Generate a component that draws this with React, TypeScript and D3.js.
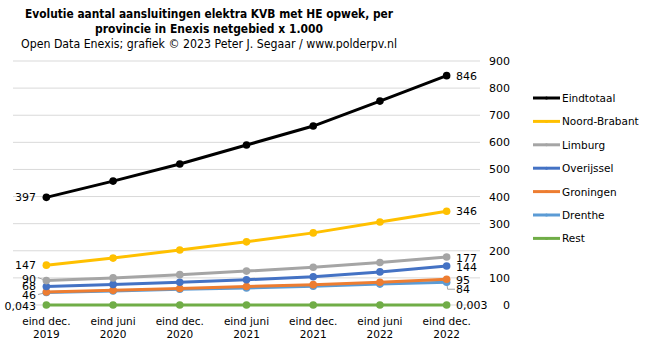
import React from 'react'
import * as d3 from 'd3'

const periods = ['eind dec.|2019', 'eind juni|2020', 'eind dec.|2020', 'eind juni|2021', 'eind dec.|2021', 'eind juni|2022', 'eind dec.|2022']
const seriesNames = ['Eindtotaal', 'Noord-Brabant', 'Limburg', 'Overijssel', 'Groningen', 'Drenthe', 'Rest']
const seriesColors = ['#000000', '#FFC000', '#A5A5A5', '#4472C4', '#ED7D31', '#5B9BD5', '#70AD47']
const eindtotaal = [397, 457, 520, 590, 660, 752, 846]
const noordBrabant = [147, 173, 203, 233, 266, 306, 346]
const limburg = [90, 100, 112, 125, 139, 157, 177]
const overijssel = [68, 76, 84, 93, 104, 122, 144]
const groningen = [48, 54, 61, 68, 75, 84, 95]
const drenthe = [46, 52, 58, 63, 69, 77, 84]
const rest = [0.043, 0.03, 0.02, 0.015, 0.01, 0.005, 0.003]
const yTicks = [0, 100, 200, 300, 400, 500, 600, 700, 800, 900]
// first / last label text per series ('' = none)
const firstLabels = ['397', '147', '90', '68', '', '46', '0,043']
const lastLabels = ['846', '346', '177', '144', '95', '84', '0,003']

const allSeries = [eindtotaal, noordBrabant, limburg, overijssel, groningen, drenthe, rest]

export default function App() {
  const width = 646
  const height = 351
  const font = 'DejaVu Sans, Verdana, sans-serif'

  const x = d3.scaleBand<string>().domain(periods).range([13, 480])
  const y = d3.scaleLinear().domain([0, 900]).range([305, 61])
  const cx = (p: string) => (x(p) ?? 0) + x.bandwidth() / 2

  const line = d3
    .line<number>()
    .x((_, i) => cx(periods[i]))
    .y((d) => y(d))

  // label positions nudged where labels would overlap
  const firstLabelY = [y(397), y(147), y(90) - 2, y(68) - 1, 0, y(46) + 2, y(0) + 1]
  const lastLabelY = [y(846), y(346), y(177) + 1, y(144) + 1, y(95) + 1, y(84) + 7, y(0)]

  const order = [6, 5, 4, 3, 2, 1, 0]

  return (
    <svg width={width} height={height} style={{ position: 'absolute', left: 0, top: 0, background: '#fff' }}>
      <text x={209} y={18} textAnchor="middle" fontFamily={font} fontSize={12.5} fontWeight="bold" textLength={368} lengthAdjust="spacingAndGlyphs">
        Evolutie aantal aansluitingen  elektra KVB met HE opwek, per
      </text>
      <text x={209} y={33} textAnchor="middle" fontFamily={font} fontSize={12.5} fontWeight="bold" textLength={228} lengthAdjust="spacingAndGlyphs">
        provincie in  Enexis netgebied x 1.000
      </text>
      <text x={209} y={48} textAnchor="middle" fontFamily={font} fontSize={12} textLength={376} lengthAdjust="spacingAndGlyphs">
        Open Data Enexis; grafiek © 2023 Peter J. Segaar / www.polderpv.nl
      </text>

      {yTicks.map((t) => (
        <g key={t}>
          <line x1={13} x2={480} y1={y(t)} y2={y(t)} stroke="#D9D9D9" strokeWidth={1} />
          <text x={510} y={y(t) + 4} textAnchor="end" fontFamily={font} fontSize={11}>
            {t}
          </text>
        </g>
      ))}

      {periods.map((p) => {
        const [a, b] = p.split('|')
        return (
          <text key={p} x={cx(p)} textAnchor="middle" fontFamily={font} fontSize={10.5}>
            <tspan x={cx(p)} y={325}>{a}</tspan>
            <tspan x={cx(p)} y={338}>{b}</tspan>
          </text>
        )
      })}

      {/* leader lines */}
      <polyline points={`${cx(periods[0])},${y(90)} 38,${y(90) - 3}`} fill="none" stroke="#A6A6A6" strokeWidth={1} />
      <polyline points={`${cx(periods[0])},${y(46)} 38,${y(46) + 2}`} fill="none" stroke="#A6A6A6" strokeWidth={1} />
      <polyline points={`${cx(periods[6])},${y(84)} ${cx(periods[6]) + 1},${y(84) + 7} 455,${y(84) + 7}`} fill="none" stroke="#A6A6A6" strokeWidth={1} />

      {order.map((si) => (
        <g key={seriesNames[si]}>
          <path d={line(allSeries[si]) ?? ''} fill="none" stroke={seriesColors[si]} strokeWidth={3} />
          {allSeries[si].map((v, i) => (
            <circle key={i} cx={cx(periods[i])} cy={y(v)} r={3.8} fill={seriesColors[si]} />
          ))}
        </g>
      ))}

      {seriesNames.map((n, si) => (
        <g key={n}>
          {firstLabels[si] && (
            <text x={36} y={firstLabelY[si] + 4} textAnchor="end" fontFamily={font} fontSize={11}>
              {firstLabels[si]}
            </text>
          )}
          <text x={456} y={lastLabelY[si] + 4} fontFamily={font} fontSize={11}>
            {lastLabels[si]}
          </text>
        </g>
      ))}

      {seriesNames.map((n, si) => {
        const ly = 98 + si * 23.4
        return (
          <g key={n}>
            <line x1={533} x2={560} y1={ly} y2={ly} stroke={seriesColors[si]} strokeWidth={3} />
            <circle cx={546.5} cy={ly} r={1.5} fill={seriesColors[si]} />
            <text x={562} y={ly + 4} fontFamily={font} fontSize={10.5}>
              {n}
            </text>
          </g>
        )
      })}
    </svg>
  )
}
